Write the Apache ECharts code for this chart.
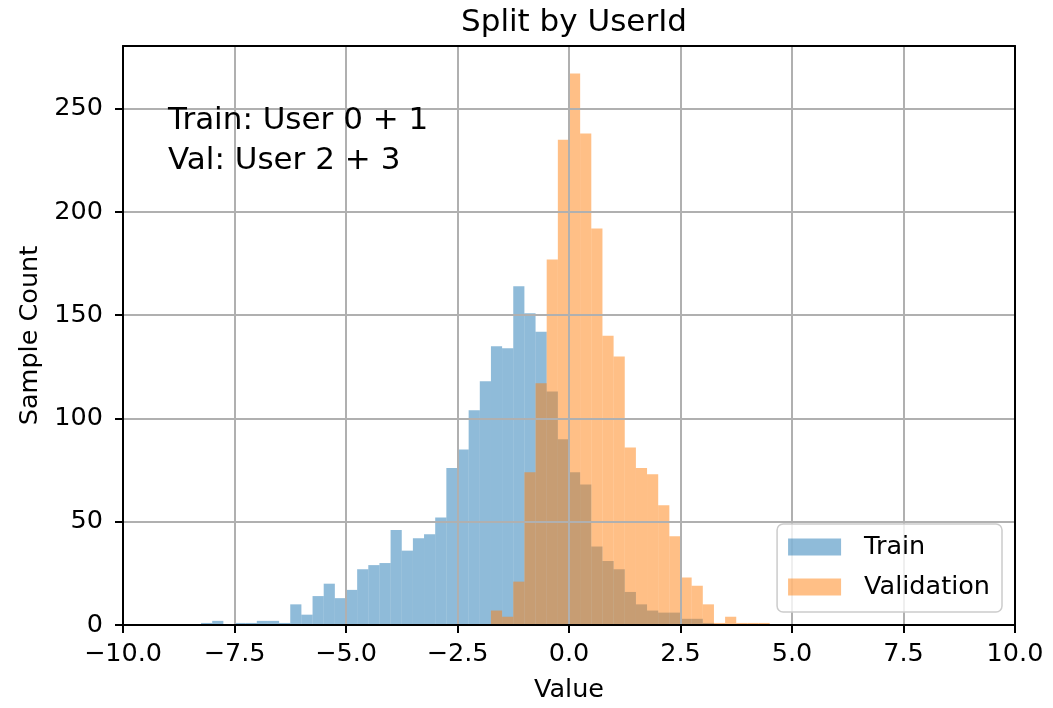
<!DOCTYPE html>
<html>
<head>
<meta charset="utf-8">
<script src="https://cdn.jsdelivr.net/npm/echarts@6/dist/echarts.min.js"></script>
<style>
  html, body { margin: 0; padding: 0; background: #fff; }
  #chart { width: 1053px; height: 708px; }
</style>
</head>
<body>
<div id="chart"></div>
<script>
// ---- data (histogram counts) ----
const binWidth = 0.25;
const trainStart = -8.25;
const trainCounts = [1, 2, 0, 1, 1, 2, 2, 1, 10, 5, 14, 20, 13, 17, 27, 29, 30, 46, 36, 42, 44, 52,
  76, 85, 104, 118, 135, 134, 164, 151, 142, 113, 90, 74, 68, 38, 31, 27, 16, 10, 7, 6, 6, 3, 3, 1];
const valStart = -1.75;
const valCounts = [7, 4, 21, 74, 117, 177, 235, 267, 238, 192, 140, 130, 86, 76, 73, 58, 43, 23, 19,
  10, 1, 4, 1, 1, 1];
const xTicks = [-10, -7.5, -5, -2.5, 0, 2.5, 5, 7.5, 10];
const yTicks = [0, 50, 100, 150, 200, 250];
const seriesNames = ['Train', 'Validation'];
const titleText = 'Split by UserId';
const noteText = 'Train: User 0 + 1\nVal: User 2 + 3';

function toBins(start, counts) {
  return counts.map((c, i) => [start + i * binWidth, start + (i + 1) * binWidth, c]);
}

const FONT = 'DejaVu Sans';
const TICK_FS = 25.5;
const BIG_FS = 31;
const trainColor = 'rgba(31,119,180,0.5)';
const valColor = 'rgba(255,127,14,0.5)';

function histSeries(name, data, color) {
  return {
    name: name,
    type: 'custom',
    clip: true,
    encode: { x: [0, 1], y: 2 },
    itemStyle: { color: color },
    data: data,
    renderItem: function (params, api) {
      const p0 = api.coord([api.value(0), api.value(2)]);
      const p1 = api.coord([api.value(1), 0]);
      return {
        type: 'rect',
        shape: { x: p0[0], y: p0[1], width: p1[0] - p0[0], height: p1[1] - p0[1] },
        style: { fill: color }
      };
    }
  };
}

function fmtX(v) {
  const s = Number(v).toFixed(1);
  return s.replace('-', '\u2212');
}

const chart = echarts.init(document.getElementById('chart'), null, { renderer: 'canvas' });
chart.setOption({
  animation: false,
  backgroundColor: '#ffffff',
  title: {
    text: titleText,
    left: 569,
    textAlign: 'center',
    top: 2,
    textStyle: { fontFamily: FONT, fontSize: BIG_FS, fontWeight: 'normal', color: '#000' }
  },
  grid: { left: 123, right: 38, top: 46, bottom: 82, containLabel: false },
  legend: {
    data: seriesNames,
    orient: 'vertical',
    right: 51,
    bottom: 96,
    icon: 'rect',
    itemWidth: 53,
    itemHeight: 17,
    itemGap: 14,
    padding: [10, 12, 12, 11],
    backgroundColor: 'rgba(255,255,255,0.8)',
    borderColor: '#cccccc',
    borderWidth: 1.5,
    borderRadius: 6,
    z: 20,
    textStyle: { fontFamily: FONT, fontSize: TICK_FS, color: '#000', padding: [0, 0, 0, 18] }
  },
  graphic: [{
    type: 'text',
    left: 168,
    top: 101,
    z: 20,
    style: {
      text: noteText,
      font: BIG_FS + 'px "DejaVu Sans"',
      lineHeight: 40,
      fill: '#000'
    }
  }],
  xAxis: [{
    type: 'value',
    min: -10, max: 10, interval: 2.5,
    z: 10,
    name: 'Value',
    nameLocation: 'middle',
    nameGap: 52,
    nameTextStyle: { fontFamily: FONT, fontSize: TICK_FS, color: '#000' },
    axisLine: { show: true, onZero: false, lineStyle: { color: '#000', width: 2 } },
    axisTick: { show: true, inside: false, length: 8, lineStyle: { color: '#000', width: 2 } },
    axisLabel: { fontFamily: FONT, fontSize: TICK_FS, color: '#000', margin: 16, formatter: fmtX,
      customValues: xTicks },
    splitLine: { show: true, lineStyle: { color: '#b0b0b0', width: 2 } }
  }, {
    type: 'value', position: 'top', min: -10, max: 10, z: 10,
    axisLine: { show: true, onZero: false, lineStyle: { color: '#000', width: 2 } },
    axisTick: { show: false }, axisLabel: { show: false }, splitLine: { show: false }
  }],
  yAxis: [{
    type: 'value',
    min: 0, max: 280.35,
    z: 10,
    name: 'Sample Count',
    nameLocation: 'middle',
    nameGap: 79,
    nameTextStyle: { fontFamily: FONT, fontSize: TICK_FS, color: '#000' },
    axisLine: { show: true, onZero: false, lineStyle: { color: '#000', width: 2 } },
    axisTick: { show: true, inside: false, length: 8, lineStyle: { color: '#000', width: 2 },
      customValues: yTicks },
    axisLabel: { fontFamily: FONT, fontSize: TICK_FS, color: '#000', margin: 20, customValues: yTicks },
    splitLine: { show: true, lineStyle: { color: '#b0b0b0', width: 2 } }
  }, {
    type: 'value', position: 'right', min: 0, max: 280.35, z: 10,
    axisLine: { show: true, onZero: false, lineStyle: { color: '#000', width: 2 } },
    axisTick: { show: false }, axisLabel: { show: false }, splitLine: { show: false }
  }],
  series: [
    histSeries(seriesNames[0], toBins(trainStart, trainCounts), trainColor),
    histSeries(seriesNames[1], toBins(valStart, valCounts), valColor)
  ]
});
</script>
</body>
</html>
